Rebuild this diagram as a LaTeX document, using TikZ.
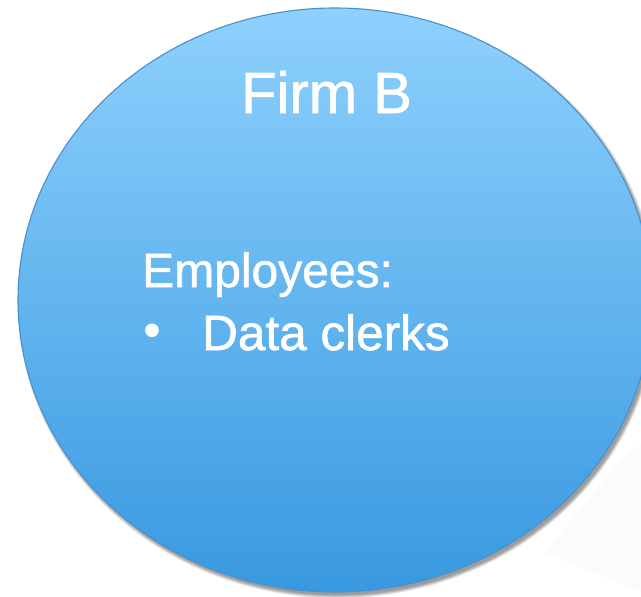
\documentclass[tikz,border=0pt]{standalone}
\usepackage{fontspec}
\setmainfont{Liberation Sans}
\newfontfamily\labelfont{Liberation Sans}[FakeBold=1.2]
\usetikzlibrary{shapes.geometric}
\definecolor{discTop}{HTML}{8ED1FD}
\definecolor{discBottom}{HTML}{3899E0}
\definecolor{discEdge}{HTML}{4A90CF}
\tikzset{
  disc/.style={ellipse, draw=discEdge, line width=1.1pt,
    top color=discTop, bottom color=discBottom,
    minimum width=634pt, minimum height=584pt, inner sep=0pt},
  label/.style={text=white, inner sep=0pt, anchor=base west},
  titletext/.style={label, font=\labelfont\fontsize{58}{60}\selectfont},
  bodytext/.style={label, font=\labelfont\fontsize{48}{52}\selectfont},
}
\begin{document}
\begin{tikzpicture}[x=1pt, y=-1pt]
  \useasboundingbox (0,0) rectangle (641,597);
  \clip (0,0) rectangle (641,597);
  \fill[white] (0,0) rectangle (641,597);
  % faint floor reflection at the lower right
  \fill[black!1.5] (628,452) -- (641,446) -- (641,592) -- (545,552) -- cycle;
  % soft drop shadow under the disc
  \foreach \k in {0,...,4}
    \fill[black, opacity=0.09] (337.5,303.5) ellipse ({316.5+\k*0.8} and {291.5+\k*0.8});
  % the disc
  \node[disc] (firm) at (335,300) {};
  % labels
  \node[titletext] (title) at (241,113) {Firm B};
  \node[bodytext] (heading) at (142,287) {Employees:};
  \node[text=white, inner sep=0pt, font=\labelfont\fontsize{48}{50}\selectfont] (dot) at (152,335) {•};
  \node[bodytext, font=\labelfont\fontsize{49.5}{52}\selectfont] (item) at (202,350) {Data clerks};
\end{tikzpicture}
\end{document}
